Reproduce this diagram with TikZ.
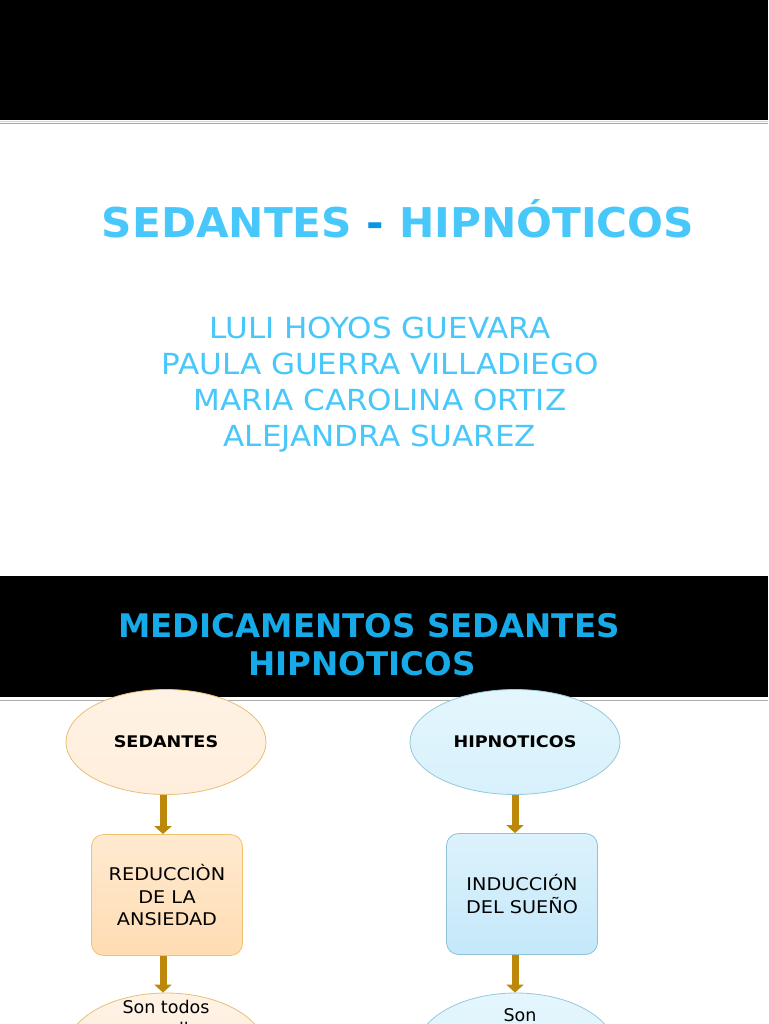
\documentclass[tikz,border=0pt]{standalone}
\usepackage{fontspec}
\setmainfont[FakeStretch=1.1]{DejaVu Sans}
\newfontfamily\plainfont{DejaVu Sans}
\newfontfamily\titlefont[FakeStretch=1.03]{DejaVu Sans}
\newfontfamily\namefont[FakeStretch=1.07]{DejaVu Sans}
\usetikzlibrary{shapes.geometric,arrows.meta}
\definecolor{titleblue}{RGB}{72,200,250}
\definecolor{dashblue}{RGB}{10,150,225}
\definecolor{headblue}{RGB}{22,170,232}
\definecolor{sedfill}{RGB}{255,238,220}
\definecolor{sedfilltop}{RGB}{255,242,228}
\definecolor{sedborder}{RGB}{232,190,120}
\definecolor{boxtop}{RGB}{255,234,208}
\definecolor{boxbot}{RGB}{255,220,178}
\definecolor{boxborder}{RGB}{240,195,110}
\definecolor{hipfill}{RGB}{215,241,252}
\definecolor{hipfilltop}{RGB}{228,246,253}
\definecolor{hipborder}{RGB}{150,200,218}
\definecolor{iboxtop}{RGB}{220,242,252}
\definecolor{iboxbot}{RGB}{196,232,250}
\definecolor{iboxborder}{RGB}{140,195,215}
\definecolor{arrowgold}{RGB}{188,136,12}
\tikzset{
  band/.style={fill=black},
  sepline/.style={line width=1pt},
  titletext/.style={text=titleblue,font=\titlefont\bfseries\fontsize{41}{50}\selectfont},
  nametext/.style={text=titleblue,font=\namefont\fontsize{29}{36}\selectfont,anchor=base},
  headtext/.style={text=headblue,font=\plainfont\bfseries\fontsize{32.5}{40}\selectfont,anchor=base},
  sedoval/.style={ellipse,draw=sedborder,top color=sedfilltop,bottom color=sedfill,
    line width=0.8pt,minimum width=200pt,minimum height=105pt,inner sep=0pt,
    font=\bfseries\fontsize{16}{20}\selectfont},
  hipoval/.style={sedoval,draw=hipborder,top color=hipfilltop,bottom color=hipfill},
  sedbox/.style={rectangle,rounded corners=12pt,draw=boxborder,top color=boxtop,
    bottom color=boxbot,line width=0.8pt,minimum width=151pt,minimum height=121pt,
    align=center,font=\fontsize{17.5}{22.5}\selectfont},
  hipbox/.style={sedbox,draw=iboxborder,top color=iboxtop,bottom color=iboxbot},
  goldarrow/.style={draw=arrowgold,line width=7pt,-{Triangle[width=17pt,length=8pt]}},
  smalltext/.style={font=\plainfont\fontsize{17.5}{20}\selectfont,anchor=base,inner sep=0pt}
}
\begin{document}
\begin{tikzpicture}[x=1pt,y=-1pt]
  \clip (0,0) rectangle (768,1024);
  \fill[white] (0,0) rectangle (768,1024);
  % bands
  \fill[band] (0,0) rectangle (768,120);
  \draw[sepline,gray!35] (0,121.5)--(768,121.5);
  \draw[sepline,gray!70] (0,124)--(768,124);
  \fill[band] (0,576) rectangle (768,697);
  \draw[sepline,gray!65] (0,700.5)--(768,700.5);
  % titles
  \node[titletext,anchor=base] (title) at (398,237)
    {SEDANTES {\color{dashblue}-} HIPNÓTICOS};
  \foreach \who [count=\i] in {LULI HOYOS GUEVARA,PAULA GUERRA VILLADIEGO,
      MARIA CAROLINA ORTIZ,ALEJANDRA SUAREZ}
    \node[nametext] (name\i) at (380,302+36*\i) {\who};
  \node[headtext] (head1) at (369,637) {MEDICAMENTOS SEDANTES};
  \node[headtext] (head2) at (362,675) {HIPNOTICOS};
  % chart
  \node[sedoval] (sed) at (166,742) {SEDANTES};
  \node[hipoval,minimum width=210pt] (hip) at (515,742) {HIPNOTICOS};
  \node[sedbox] (red) at (167,895) {REDUCCIÒN\\DE LA\\ANSIEDAD};
  \node[hipbox] (ind) at (522,894) {INDUCCIÓN\\DEL SUEÑO};
  \node[sedoval,minimum width=200pt,minimum height=116pt] (sontodos) at (166,1051) {};
  \node[hipoval,minimum width=200pt,minimum height=116pt] (son) at (516,1051) {};
  \node[smalltext] (sontxt1) at (166,1013) {Son todos};
  \node[smalltext] (sontxt2) at (172,1035) {aquellos};
  \node[smalltext] (sontxt3) at (520,1021) {Son};
  \draw[goldarrow] ([xshift=-3pt]sed.south) -- ([xshift=-3pt]sed.south |- red.north);
  \draw[goldarrow] ([xshift=-4pt]red.south) -- ([xshift=-4pt]red.south |- sontodos.north);
  \draw[goldarrow] (hip.south) -- (hip.south |- ind.north);
  \draw[goldarrow] (hip.south |- ind.south) -- (hip.south |- son.north);
\end{tikzpicture}
\end{document}
